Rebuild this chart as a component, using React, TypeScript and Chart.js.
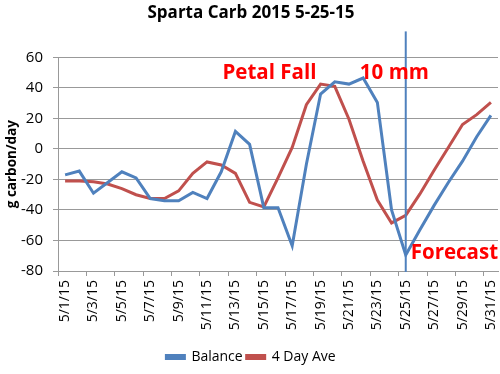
import React, { useEffect, useRef } from "react";
import { Chart, registerables } from "chart.js";

Chart.register(...registerables);

const dates = [
  "5/1/15", "5/2/15", "5/3/15", "5/4/15", "5/5/15", "5/6/15", "5/7/15", "5/8/15",
  "5/9/15", "5/10/15", "5/11/15", "5/12/15", "5/13/15", "5/14/15", "5/15/15", "5/16/15",
  "5/17/15", "5/18/15", "5/19/15", "5/20/15", "5/21/15", "5/22/15", "5/23/15", "5/24/15",
  "5/25/15", "5/26/15", "5/27/15", "5/28/15", "5/29/15", "5/30/15", "5/31/15",
];
const balance = [
  -17, -14.5, -29, -22, -15, -19, -32.5, -34, -34, -28.5, -32.5, -15, 11.5, 3, -38.5, -38.5,
  -63.5, -10, 36, 44, 42.5, 46.5, 30.5, -40, -69.5, -53, -37, -22, -8, 8, 22,
];
const fourDayAve = [
  -21, -21, -21.5, -23, -26, -30, -32.5, -32.5, -27.5, -16, -8.5, -10.5, -16, -35, -38, -19,
  1, 29, 42.5, 41, 19.5, -8, -33.5, -48.5, -43.5, -29.5, -14, 1, 16, 22.5, 30.5,
];
const yTicks = [-80, -60, -40, -20, 0, 20, 40, 60];
const forecastDate = "5/25/15";
const notes = [
  { text: "Petal Fall", x: 14.4, y: 50, align: "center" },
  { text: "10 mm", x: 23.2, y: 50, align: "center" },
  { text: "Forecast", x: 24.35, y: -68.5, align: "left" },
];

const FONT = "'Open Sans', 'Liberation Sans', sans-serif";

const overlay = {
  id: "overlay",
  afterDatasetsDraw(chart: any) {
    const { ctx, scales, chartArea } = chart;
    const xs = scales.x;
    const ys = scales.y;
    const xi = dates.indexOf(forecastDate);
    const px = xs.getPixelForValue(xi);
    ctx.save();
    ctx.strokeStyle = "#4f81bd";
    ctx.lineWidth = 2;
    ctx.beginPath();
    ctx.moveTo(px, chartArea.top - 26);
    ctx.lineTo(px, chartArea.bottom + 1);
    ctx.stroke();
    ctx.fillStyle = "#ff0000";
    ctx.font = "bold 20.5px " + FONT;
    ctx.textBaseline = "middle";
    for (const n of notes) {
      ctx.textAlign = n.align as CanvasTextAlign;
      ctx.fillText(n.text, xs.getPixelForValue(n.x), ys.getPixelForValue(n.y));
    }
    ctx.restore();
  },
};

export default function App() {
  const ref = useRef<HTMLCanvasElement>(null);
  useEffect(() => {
    document.body.style.margin = "0";
    const chart = new Chart(ref.current!, {
      type: "line",
      data: {
        labels: dates,
        datasets: [
          {
            label: "Balance",
            data: balance,
            borderColor: "#4f81bd",
            backgroundColor: "#4f81bd",
            borderWidth: 3,
            pointRadius: 0,
            tension: 0,
          },
          {
            label: "4 Day Ave",
            data: fourDayAve,
            borderColor: "#c0504d",
            backgroundColor: "#c0504d",
            borderWidth: 3,
            pointRadius: 0,
            tension: 0,
          },
        ],
      },
      options: {
        responsive: false,
        animation: false,
        layout: { padding: { left: 4, right: 2, top: 3, bottom: 0 } },
        plugins: {
          title: {
            display: true,
            text: "Sparta Carb 2015 5-25-15",
            color: "#000",
            font: { family: FONT, size: 17, weight: "bold" },
            padding: { top: 0, bottom: 34 },
          },
          legend: {
            position: "bottom",
            labels: {
              color: "#000",
              font: { family: FONT, size: 14 },
              boxWidth: 18,
              boxHeight: 3,
              padding: 4,
            },
          },
          tooltip: { enabled: false },
        },
        scales: {
          x: {
            type: "category",
            offset: true,
            afterFit: (s: any) => {
              s.height = 75;
              s.paddingLeft = 0;
              s.paddingRight = 0;
            },
            grid: {
              offset: true,
              drawOnChartArea: false,
              tickLength: 5,
              color: (c: any) => (c.index % 2 === 0 ? "#999" : "rgba(0,0,0,0)"),
            },
            border: { color: "#999", width: 1 },
            ticks: {
              autoSkip: false,
              maxRotation: 90,
              minRotation: 90,
              padding: 4,
              color: "#000",
              font: { family: FONT, size: 14 },
              callback: (v: any, i: number) => (i % 2 === 0 ? dates[i] : ""),
            },
          },
          y: {
            min: -80,
            max: 60,
            afterFit: (s: any) => {
              s.width = 54;
              s.paddingTop = 0;
              s.paddingBottom = 0;
            },
            afterBuildTicks: (s: any) => {
              s.ticks = yTicks.map((v) => ({ value: v }));
            },
            grid: { color: "#999", tickLength: 5 },
            border: { color: "#999" },
            ticks: {
              color: "#000",
              font: { family: FONT, size: 15 },
              padding: 10,
            },
            title: {
              display: true,
              text: "g carbon/day",
              color: "#000",
              font: { family: FONT, size: 13.5, weight: "bold" },
              padding: { top: 0, bottom: 0 },
            },
          },
        },
      },
      plugins: [overlay],
    });
    return () => chart.destroy();
  }, []);
  return <canvas ref={ref} width={500} height={374} style={{ display: "block" }} />;
}
